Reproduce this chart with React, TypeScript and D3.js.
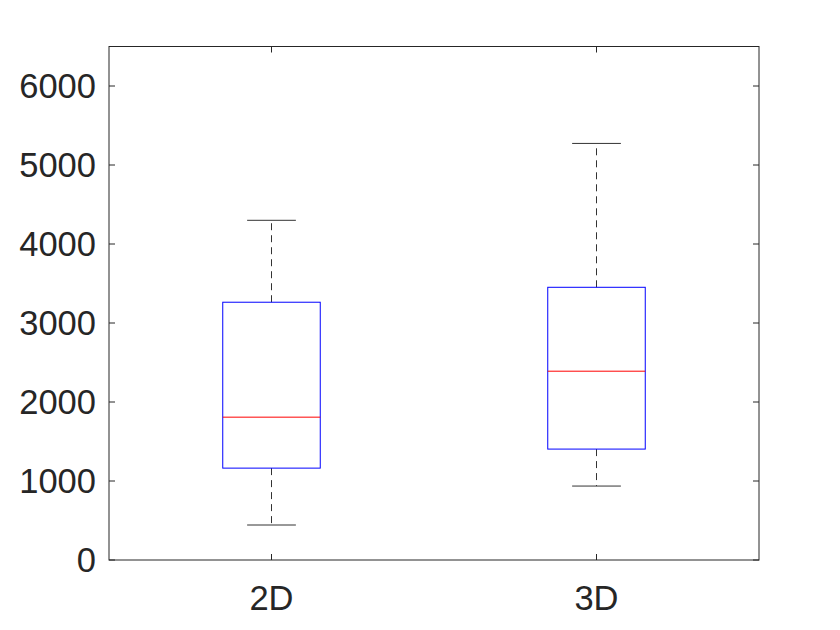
import React, { useEffect, useRef } from "react";
import * as d3 from "d3";

const categories = ["2D", "3D"];
const lowerWhisker = [443, 936];
const q1 = [1163, 1404];
const median = [1808, 2390];
const q3 = [3263, 3452];
const upperWhisker = [4300, 5273];
const yTicks = [0, 1000, 2000, 3000, 4000, 5000, 6000];

export default function App() {
  const ref = useRef<SVGSVGElement>(null);

  useEffect(() => {
    const width = 840;
    const height = 630;
    const margin = { top: 46.5, right: 81, bottom: 70, left: 109 };
    const iw = width - margin.left - margin.right;
    const ih = height - margin.top - margin.bottom;
    const axisColor = "#262626";
    const font = "'Liberation Sans', Arial, sans-serif";

    const svg = d3.select(ref.current).html("");
    const g = svg
      .append("g")
      .attr("transform", "translate(" + margin.left + "," + margin.top + ")");

    const x = d3.scaleLinear().domain([0.5, 2.5]).range([0, iw]);
    const y = d3.scaleLinear().domain([0, 6500]).range([ih, 0]);

    const data = categories.map((c, i) => ({
      name: c,
      pos: i + 1,
      lo: lowerWhisker[i],
      q1: q1[i],
      med: median[i],
      q3: q3[i],
      hi: upperWhisker[i],
    }));

    const boxHalf = x(1.15) - x(1);
    const capHalf = x(1.075) - x(1);

    const box = g.selectAll(".box").data(data).enter().append("g").attr("class", "box");

    // whiskers (dashed)
    box
      .append("line")
      .attr("x1", (d) => x(d.pos))
      .attr("x2", (d) => x(d.pos))
      .attr("y1", (d) => y(d.q3))
      .attr("y2", (d) => y(d.hi))
      .attr("stroke", "#333")
      .attr("stroke-dasharray", "7,5")
      .attr("stroke-width", 1);
    box
      .append("line")
      .attr("x1", (d) => x(d.pos))
      .attr("x2", (d) => x(d.pos))
      .attr("y1", (d) => y(d.q1))
      .attr("y2", (d) => y(d.lo))
      .attr("stroke", "#333")
      .attr("stroke-dasharray", "7,5")
      .attr("stroke-width", 1);

    // caps
    box
      .append("line")
      .attr("x1", (d) => x(d.pos) - capHalf)
      .attr("x2", (d) => x(d.pos) + capHalf)
      .attr("y1", (d) => y(d.hi))
      .attr("y2", (d) => y(d.hi))
      .attr("stroke", "#333");
    box
      .append("line")
      .attr("x1", (d) => x(d.pos) - capHalf)
      .attr("x2", (d) => x(d.pos) + capHalf)
      .attr("y1", (d) => y(d.lo))
      .attr("y2", (d) => y(d.lo))
      .attr("stroke", "#333");

    // box
    box
      .append("rect")
      .attr("x", (d) => x(d.pos) - boxHalf)
      .attr("width", boxHalf * 2)
      .attr("y", (d) => y(d.q3))
      .attr("height", (d) => y(d.q1) - y(d.q3))
      .attr("fill", "none")
      .attr("stroke", "#0000ff")
      .attr("stroke-width", 1);

    // median
    box
      .append("line")
      .attr("x1", (d) => x(d.pos) - boxHalf)
      .attr("x2", (d) => x(d.pos) + boxHalf)
      .attr("y1", (d) => y(d.med))
      .attr("y2", (d) => y(d.med))
      .attr("stroke", "#ff0000")
      .attr("stroke-width", 1);

    // axes frame
    g.append("rect")
      .attr("width", iw)
      .attr("height", ih)
      .attr("fill", "none")
      .attr("stroke", axisColor)
      .attr("stroke-width", 1);

    const tickLen = 6;
    // y ticks left and right
    yTicks.forEach((t) => {
      g.append("line")
        .attr("x1", 0)
        .attr("x2", tickLen)
        .attr("y1", y(t))
        .attr("y2", y(t))
        .attr("stroke", axisColor);
      g.append("line")
        .attr("x1", iw)
        .attr("x2", iw - tickLen)
        .attr("y1", y(t))
        .attr("y2", y(t))
        .attr("stroke", axisColor);
      g.append("text")
        .attr("x", -13)
        .attr("y", y(t))
        .attr("dy", "0.36em")
        .attr("text-anchor", "end")
        .attr("font-family", font)
        .attr("font-size", 34.5)
        .attr("fill", axisColor)
        .text(t);
    });

    // x ticks bottom and top
    data.forEach((d) => {
      g.append("line")
        .attr("x1", x(d.pos))
        .attr("x2", x(d.pos))
        .attr("y1", ih)
        .attr("y2", ih - tickLen)
        .attr("stroke", axisColor);
      g.append("line")
        .attr("x1", x(d.pos))
        .attr("x2", x(d.pos))
        .attr("y1", 0)
        .attr("y2", tickLen)
        .attr("stroke", axisColor);
      g.append("text")
        .attr("x", x(d.pos))
        .attr("y", ih + 50)
        .attr("text-anchor", "middle")
        .attr("font-family", font)
        .attr("font-size", 34.5)
        .attr("fill", axisColor)
        .text(d.name);
    });
  }, []);

  return (
    <svg
      ref={ref}
      width={840}
      height={630}
      style={{ position: "absolute", left: 0, top: 0, background: "#fff" }}
    />
  );
}
